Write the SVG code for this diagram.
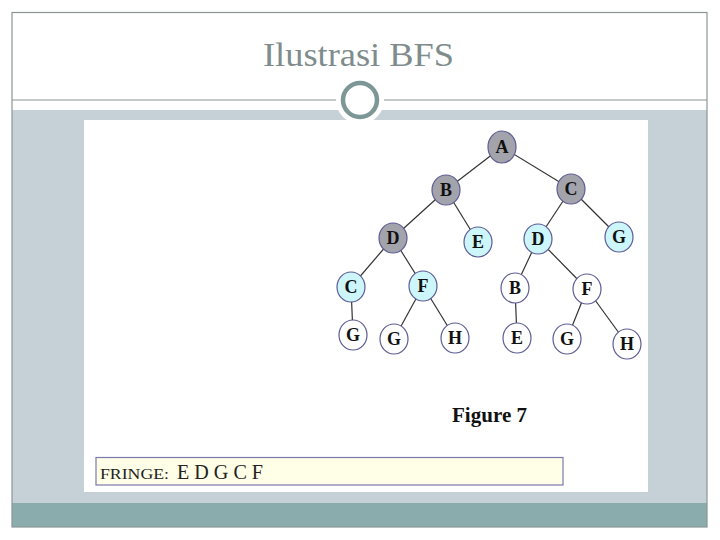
<svg xmlns="http://www.w3.org/2000/svg" width="720" height="540" viewBox="0 0 720 540">
<style>
.nd{stroke:#5c5c96;stroke-width:1.2}
.g{fill:#a3a3ab}
.c{fill:#cdf6fa}
.w{fill:#ffffff}
.lb{font-family:"Liberation Serif",serif;font-weight:bold;font-size:18px;fill:#111;text-anchor:middle}
.ed line{stroke:#333;stroke-width:1.2}
</style>
<rect x="0" y="0" width="720" height="540" fill="#ffffff"/>
<rect x="12" y="110" width="695" height="393" fill="#c6d1d7"/>
<rect x="12" y="503" width="695" height="24" fill="#8aacac"/>
<rect x="12" y="12.5" width="695" height="514.5" fill="none" stroke="#8a9696" stroke-width="1.2"/>
<line x1="12" y1="100" x2="707" y2="100" stroke="#8a9696" stroke-width="1.2"/>
<circle cx="360" cy="100" r="24" fill="#ffffff"/>
<circle cx="360" cy="100" r="17" fill="#ffffff" stroke="#7d9696" stroke-width="4.5"/>
<text x="263" y="66" font-family="Liberation Serif, serif" font-size="33" fill="#7f8c8d" textLength="191" lengthAdjust="spacingAndGlyphs">Ilustrasi BFS</text>
<rect x="84" y="120" width="564" height="372" fill="#ffffff"/>
<g id="connectors" class="ed">
<line x1="502" y1="147" x2="446" y2="190"/>
<line x1="502" y1="147" x2="571" y2="189"/>
<line x1="446" y1="190" x2="393" y2="238"/>
<line x1="446" y1="190" x2="478" y2="242"/>
<line x1="571" y1="189" x2="538" y2="239"/>
<line x1="571" y1="189" x2="619" y2="237"/>
<line x1="393" y1="238" x2="351" y2="287"/>
<line x1="393" y1="238" x2="423" y2="286"/>
<line x1="538" y1="239" x2="515" y2="288"/>
<line x1="538" y1="239" x2="587" y2="289"/>
<line x1="351" y1="287" x2="353" y2="335"/>
<line x1="423" y1="286" x2="394" y2="339"/>
<line x1="423" y1="286" x2="455" y2="338"/>
<line x1="515" y1="288" x2="517" y2="338"/>
<line x1="587" y1="289" x2="567" y2="339"/>
<line x1="587" y1="289" x2="627" y2="344"/>
</g>
<g id="nA"><ellipse class="nd g" cx="502" cy="147" rx="14" ry="16"/><text class="lb" x="502" y="153">A</text></g>
<g id="nB"><ellipse class="nd g" cx="446" cy="190" rx="14" ry="15"/><text class="lb" x="446" y="196">B</text></g>
<g id="nC"><ellipse class="nd g" cx="571" cy="189" rx="14" ry="15"/><text class="lb" x="571" y="195">C</text></g>
<g id="nD1"><ellipse class="nd g" cx="393" cy="238" rx="14" ry="15"/><text class="lb" x="393" y="244">D</text></g>
<g id="nE1"><ellipse class="nd c" cx="478" cy="242" rx="14" ry="15"/><text class="lb" x="478" y="248">E</text></g>
<g id="nD2"><ellipse class="nd c" cx="538" cy="239" rx="14" ry="15"/><text class="lb" x="538" y="245">D</text></g>
<g id="nG1"><ellipse class="nd c" cx="619" cy="237" rx="14" ry="15"/><text class="lb" x="619" y="243">G</text></g>
<g id="nC2"><ellipse class="nd c" cx="351" cy="287" rx="14" ry="15"/><text class="lb" x="351" y="293">C</text></g>
<g id="nF1"><ellipse class="nd c" cx="423" cy="286" rx="14" ry="15"/><text class="lb" x="423" y="292">F</text></g>
<g id="nB2"><ellipse class="nd w" cx="515" cy="288" rx="14" ry="15"/><text class="lb" x="515" y="294">B</text></g>
<g id="nF2"><ellipse class="nd w" cx="587" cy="289" rx="14" ry="15"/><text class="lb" x="587" y="295">F</text></g>
<g id="nG2"><ellipse class="nd w" cx="353" cy="335" rx="14" ry="15"/><text class="lb" x="353" y="341">G</text></g>
<g id="nG3"><ellipse class="nd w" cx="394" cy="339" rx="14" ry="15"/><text class="lb" x="394" y="345">G</text></g>
<g id="nH1"><ellipse class="nd w" cx="455" cy="338" rx="14" ry="15"/><text class="lb" x="455" y="344">H</text></g>
<g id="nE2"><ellipse class="nd w" cx="517" cy="338" rx="14" ry="15"/><text class="lb" x="517" y="344">E</text></g>
<g id="nG4"><ellipse class="nd w" cx="567" cy="339" rx="14" ry="15"/><text class="lb" x="567" y="345">G</text></g>
<g id="nH2"><ellipse class="nd w" cx="627" cy="344" rx="14" ry="15"/><text class="lb" x="627" y="350">H</text></g>
<text x="452" y="422" font-family="Liberation Serif, serif" font-weight="bold" font-size="21" fill="#111" textLength="75" lengthAdjust="spacingAndGlyphs">Figure 7</text>
<g id="fringe">
<rect x="96" y="457.5" width="467" height="27.5" fill="#fffee6" stroke="#7a78b0" stroke-width="1.2"/>
<text x="100" y="479" font-family="Liberation Serif, serif" font-size="15" fill="#222" textLength="69" lengthAdjust="spacingAndGlyphs">FRINGE:</text>
<text x="177" y="479" font-family="Liberation Serif, serif" font-size="20" fill="#222" textLength="86" lengthAdjust="spacingAndGlyphs">E D G C F</text>
</g>
</svg>
